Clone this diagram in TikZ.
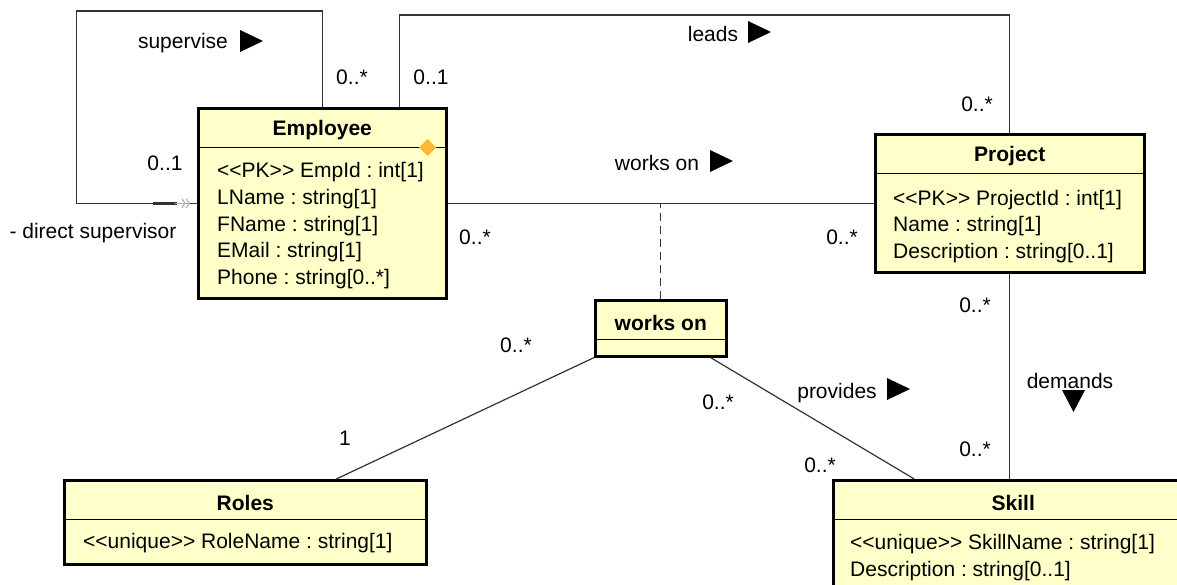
\documentclass[tikz,border=0pt]{standalone}
\usepackage{fontspec}
\setmainfont{Liberation Sans}[Ligatures=TeXOff]
\usetikzlibrary{arrows.meta}
\definecolor{umlfill}{RGB}{255,255,202}
\definecolor{umldot}{RGB}{255,184,51}
\newcommand{\umlst}[1]{<<#1>>}
\frenchspacing

\begin{document}
\begin{tikzpicture}[x=1pt,y=-1pt,
  every node/.style={font=\fontsize{21}{27}\selectfont, inner sep=0pt},
  classbox/.style={draw=black, line width=2.6pt, fill=umlfill, anchor=north west},
  title/.style={font=\fontsize{21}{27}\selectfont\bfseries},
  attr/.style={anchor=west},
  link/.style={line width=1.2pt, black!80}]
  \useasboundingbox (0,0) rectangle (1177,584);
  \clip (0,0) rectangle (1177,584);

  \node[classbox, minimum width=248pt, minimum height=190pt] (emp) at (197,107) {};
  \node[classbox, minimum width=269pt, minimum height=138pt] (proj) at (874,133) {};
  \node[classbox, minimum width=131pt, minimum height=56pt] (wo) at (594,299) {};
  \node[classbox, minimum width=362pt, minimum height=84pt] (roles) at (63,479) {};
  \node[classbox, minimum width=360pt, minimum height=113pt] (skill) at (832,479) {};

  \foreach \n/\t in {emp/Employee, proj/Project, wo/works on, roles/Roles, skill/Skill}{
  \node[title] (\n name) at ([yshift=-23.5pt]\n.north) {\t};
  \draw[line width=1.2pt] ([yshift=-40.5pt]\n.north west) -- ([yshift=-40.5pt]\n.north east);
  }

  \foreach \a [count=\i] in {\umlst{PK} EmpId : int[1], LName : string[1], FName : string[1], EMail : string[1], Phone : string[0..*]}
  \node[attr] (empattr\i) at ([xshift=20pt,yshift={-65pt-26.8pt*(\i-1)}]emp.north west) {\a};
  \foreach \a [count=\i] in {\umlst{PK} ProjectId : int[1], Name : string[1], Description : string[0..1]}
  \node[attr] (projattr\i) at ([xshift=19pt,yshift={-67pt-26.5pt*(\i-1)}]proj.north west) {\a};
  \node[attr] (rolesattr) at ([xshift=20pt,yshift=-64pt]roles.north west) {\umlst{unique} RoleName : string[1]};
  \foreach \a [count=\i] in {\umlst{unique} SkillName : string[1], Description : string[0..1]}
  \node[attr] (skillattr\i) at ([xshift=18pt,yshift={-65pt-27pt*(\i-1)}]skill.north west) {\a};

  \fill[umldot] ([xshift=-28.5pt,yshift=-40.5pt]emp.north east) -- ++(8.5,-8.5) -- ++(8.5,8.5) -- ++(-8.5,8.5) -- cycle;

  \draw[link] (emp.north) -- ++(0,-96) -- ++(-246,0) |- (emp.west);
  \draw[link] ([xshift=77pt]emp.north) -- ++(0,-92) -| (proj.north);
  \draw[link] (emp.east) -- (proj.west);
  \draw[link, dash pattern=on 8pt off 5pt] (wo.north) -- (wo.north |- emp.east);
  \draw[link] (wo.south west) -- ([xshift=91pt]roles.north);
  \draw[link] ([xshift=-17pt]wo.south east) -- ([xshift=-99pt]skill.north);
  \draw[link] (proj.south) -- (proj.south |- skill.north);

  \draw[line width=2.4pt, black!80] ([xshift=-44pt]emp.west) -- ([xshift=-20pt]emp.west);
  \draw[gray!60, line width=1.2pt, -{Straight Barb[length=3pt,width=9pt]Straight Barb[length=3pt,width=9pt]}] ([xshift=-22pt]emp.west) -- ([xshift=-7pt]emp.west);

  \node (lsup) at (183,43) {supervise};
  \node (lleads) at (713,34) {leads};
  \node (lworks) at (657,163) {works on};
  \node (lprov) at (837,393) {provides};
  \node (ldem) at (1070,381) {demands};
  \foreach \x/\y in {240/41, 748/32, 710/161, 887/389}
  \fill (\x,\y-11) -- ++(23,11) -- ++(-23,11) -- cycle;
  \fill (1062,390) -- (1085,390) -- (1073.5,412) -- cycle;

  \foreach \x/\y/\t [count=\i] in {352/77/0..*, 431/77/0..1, 165/163/0..1, 93/233/- direct supervisor,
    977/104/0..*, 475/237/0..*, 842/237/0..*, 975/305/0..*, 975/449/0..*,
    516/345/0..*, 345/438/1, 718/402/0..*, 820/465/0..*}
  \node (mult\i) at (\x,\y) {\t};
\end{tikzpicture}
\end{document}
